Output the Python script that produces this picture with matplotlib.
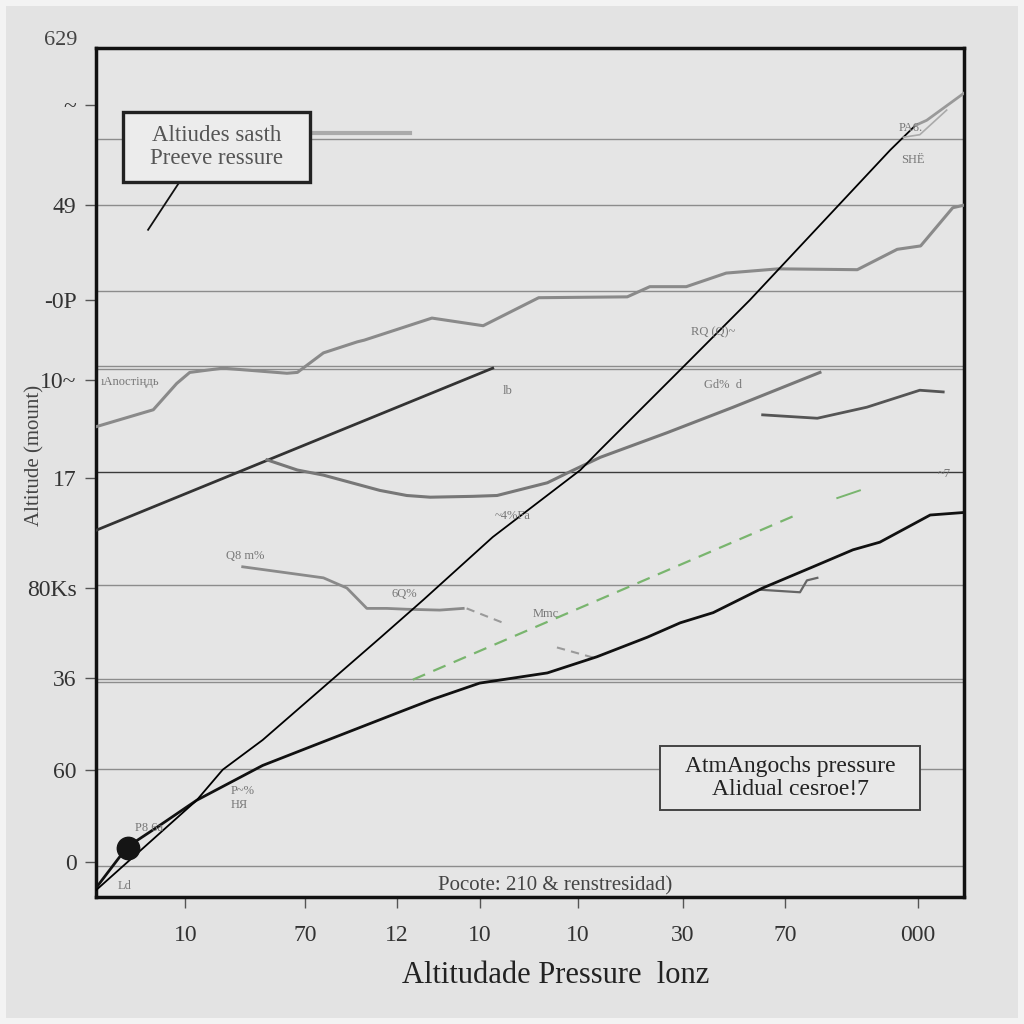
import matplotlib
matplotlib.use("Agg")
import matplotlib.pyplot as plt
from matplotlib.patches import Rectangle

# ---------------- data ----------------
thin_x = [0, 11.6, 14.6, 19.2, 32.7, 37.7, 45.7, 55.8, 58.1, 67.6, 75.3, 91.5, 94.4]
thin_y = [0.8, 11.4, 15.0, 18.5, 30.5, 35.0, 42.4, 50.3, 52.7, 62.4, 70.3, 88.0, 90.9]

thin_ext_x = [94.4, 95.7, 100]
thin_ext_y = [90.9, 91.5, 94.7]
thin_ext2_x = [93.0, 94.9, 98.0]
thin_ext2_y = [89.5, 89.8, 92.7]

pressure_x = [0.1, 3.6, 7.0, 11.6, 19.2, 24.7, 35.0, 38.8, 44.2, 52.0, 57.7, 63.5,
              67.3, 71.1, 76.8, 82.6, 87.2, 90.3, 96.1, 100]
pressure_y = [1.2, 5.9, 8.2, 11.4, 15.5, 17.7, 21.8, 23.3, 25.2, 26.4, 28.3, 30.6,
              32.3, 33.5, 36.4, 38.9, 40.9, 41.8, 45.0, 45.3]

straight_x = [0, 45.7]
straight_y = [43.2, 62.3]

upper_x = [0, 6.6, 9.3, 10.8, 14.6, 22.0, 23.2, 26.2, 30.1, 30.9, 38.7, 44.6, 51.0,
           61.2, 63.8, 68.0, 72.6, 78.6, 87.7, 92.3, 95.0, 98.7, 100]
upper_y = [55.4, 57.4, 60.5, 61.8, 62.3, 61.7, 61.8, 64.1, 65.4, 65.6, 68.2, 67.3, 70.6,
           70.7, 71.9, 71.9, 73.5, 74.0, 73.9, 76.3, 76.7, 81.2, 81.5]

middle_x = [19.7, 23.2, 26.2, 32.7, 35.8, 38.5, 43.4, 46.2, 52.0, 54.6, 58.1, 65.8, 73.4, 83.4]
middle_y = [51.5, 50.3, 49.7, 47.9, 47.3, 47.1, 47.2, 47.3, 48.8, 50.1, 51.8, 54.7, 57.7, 61.8]

right_x = [76.8, 83.1, 88.8, 94.9, 97.6]
right_y = [56.8, 56.4, 57.7, 59.7, 59.5]

left_mid_x = [16.9, 21.2, 26.2, 28.9, 31.2, 33.5, 35.8, 39.6, 42.3]
left_mid_y = [38.9, 38.3, 37.6, 36.4, 34.0, 34.0, 33.9, 33.8, 34.0]

grey_dash1_x = [42.7, 46.9]
grey_dash1_y = [34.0, 32.3]
grey_dash2_x = [53.1, 57.3]
grey_dash2_y = [29.4, 28.2]

green_x = [36.5, 81.1]
green_y = [25.6, 45.2]
green2_x = [85.4, 88.0]
green2_y = [47.0, 47.9]

small_x = [76.5, 81.1, 81.9, 83.1]
small_y = [36.2, 35.9, 37.3, 37.6]

dot_x = [3.7]
dot_y = [5.8]

grid_levels = [89.3, 81.5, 71.4, 62.5, 62.2, 36.7, 25.7, 25.3, 15.1, 3.7]
dark_grid_levels = [50.1]

ytick_pos = [93.3, 81.5, 70.3, 60.9, 49.4, 36.4, 25.8, 15.0, 4.1]
ytick_labels = ["~", "49", "-0P", "10~", "17", "80Ks", "36", "60", "0"]
xtick_pos = [10.3, 24.1, 34.7, 44.2, 55.5, 67.6, 79.4, 94.7]
xtick_labels = ["10", "70", "12", "10", "10", "30", "70", "000"]

# ---------------- figure ----------------
fig = plt.figure(figsize=(10.24, 10.24), dpi=100, facecolor="#f3f3f3")
fig.patches.append(Rectangle((0.006, 0.006), 0.988, 0.988, transform=fig.transFigure,
                             facecolor="#e3e3e3", edgecolor="none", zorder=-10))
ax = fig.add_axes([0.09375, 0.124, 0.8477, 0.829])
ax.set_facecolor("#e5e5e5")
ax.set_xlim(0, 100)
ax.set_ylim(0, 100)

for g in grid_levels:
    ax.axhline(g, color="#8c8c8c", lw=1.0, zorder=1)
for g in dark_grid_levels:
    ax.axhline(g, color="#3a3a3a", lw=1.0, zorder=1)

ax.plot(upper_x, upper_y, color="#8a8a8a", lw=2.2, zorder=3)
ax.plot(straight_x, straight_y, color="#333333", lw=2.0, zorder=3)
ax.plot(middle_x, middle_y, color="#777777", lw=2.2, zorder=3)
ax.plot(right_x, right_y, color="#555555", lw=2.0, zorder=3)
ax.plot(left_mid_x, left_mid_y, color="#8a8a8a", lw=2.0, zorder=3)
ax.plot(grey_dash1_x, grey_dash1_y, color="#9a9a9a", lw=1.5, ls=(0, (4, 3)), zorder=3)
ax.plot(grey_dash2_x, grey_dash2_y, color="#9a9a9a", lw=1.5, ls=(0, (4, 3)), zorder=3)
ax.plot(small_x, small_y, color="#666666", lw=1.6, zorder=3)
ax.plot(green_x, green_y, color="#79b56e", lw=1.6, ls=(0, (6, 4)), zorder=3)
ax.plot(green2_x, green2_y, color="#79b56e", lw=1.4, zorder=3)
ax.plot(pressure_x, pressure_y, color="#111111", lw=2.0, zorder=4)
ax.plot(thin_x, thin_y, color="#000000", lw=1.3, zorder=4)
ax.plot(thin_ext_x, thin_ext_y, color="#999999", lw=2.0, zorder=4)
ax.plot(thin_ext2_x, thin_ext2_y, color="#aaaaaa", lw=1.2, zorder=4)
ax.scatter(dot_x, dot_y, s=260, color="#151515", zorder=5)

# annotation pointer and grey smudge line
ax.plot([9.6, 6.0], [84.2, 78.6], color="#111111", lw=1.3, zorder=4)
ax.plot([24.7, 36.2], [90.0, 90.0], color="#aaaaaa", lw=3, zorder=2)

# boxes
ax.add_patch(Rectangle((3.1, 84.2), 21.5, 8.3, facecolor="#ececec",
                       edgecolor="#222222", lw=2.4, zorder=5))
ax.text(13.9, 88.35, "Altiudes sasth\nPreeve ressure", ha="center", va="center",
        fontsize=16.5, family="Liberation Serif", color="#555555", linespacing=1.15, zorder=6)
ax.add_patch(Rectangle((65.0, 10.2), 29.9, 7.6, facecolor="#e8e8e8",
                       edgecolor="#444444", lw=1.4, zorder=5))
ax.text(80.0, 14.0, "AtmAngochs pressure\nAlidual cesroe!7", ha="center", va="center",
        fontsize=17, family="Liberation Serif", color="#222222", linespacing=1.1, zorder=6)

# small scribble labels
scrib = dict(fontsize=9, color="#777777", family="Liberation Serif", zorder=6)
ax.text(0.5, 60.3, "ıAnoстіңдь", **scrib)
ax.text(15.0, 39.8, "Q8 m%", **scrib)
ax.text(34.0, 35.3, "6Q%", **scrib)
ax.text(50.3, 33.0, "Mmc", **scrib)
ax.text(45.9, 44.5, "~4%Fa", **scrib)
ax.text(68.5, 66.2, "RQ (Q)~", **scrib)
ax.text(70.0, 60.0, "Gd%  d", **scrib)
ax.text(46.8, 59.3, "lb", **scrib)
ax.text(92.5, 90.2, "PA6.", **scrib)
ax.text(92.8, 86.5, "SНЁ", **scrib)
ax.text(97.0, 49.5, "~7", **scrib)
ax.text(15.5, 10.5, "P~%\nНЯ", **scrib)
ax.text(4.5, 7.8, "P8 6a", **scrib)
ax.text(2.5, 1.0, "Ld", **scrib)

ax.text(52.9, 1.3, "Pocote: 210 & renstresidad)", ha="center", va="center",
        fontsize=15, color="#444444", family="Liberation Serif", zorder=6)

# axes styling
for s in ax.spines.values():
    s.set_color("#111111")
    s.set_linewidth(2.5)
ax.set_yticks(ytick_pos)
ax.set_yticklabels(ytick_labels, fontsize=17, family="Liberation Serif", color="#333333")
ax.set_xticks(xtick_pos)
ax.set_xticklabels(xtick_labels, fontsize=17, family="Liberation Serif", color="#333333")
ax.tick_params(axis="y", length=8, width=1, color="#555555", pad=6)
ax.tick_params(axis="x", length=8, width=1, color="#555555", pad=12)
ax.text(-4.1, 100.9, "629", ha="center", va="center", fontsize=16,
        family="Liberation Serif", color="#444444", clip_on=False)

ax.set_xlabel("Altitudade Pressure  lonz", fontsize=22, family="Liberation Serif",
              color="#222222")
ax.xaxis.set_label_coords(0.529, -0.075)
ax.set_ylabel("Altitude (mount)", fontsize=15, family="Liberation Serif",
              color="#444444")
ax.yaxis.set_label_coords(-0.059, 0.52)

fig.savefig("out.png", dpi=100, facecolor=fig.get_facecolor())
